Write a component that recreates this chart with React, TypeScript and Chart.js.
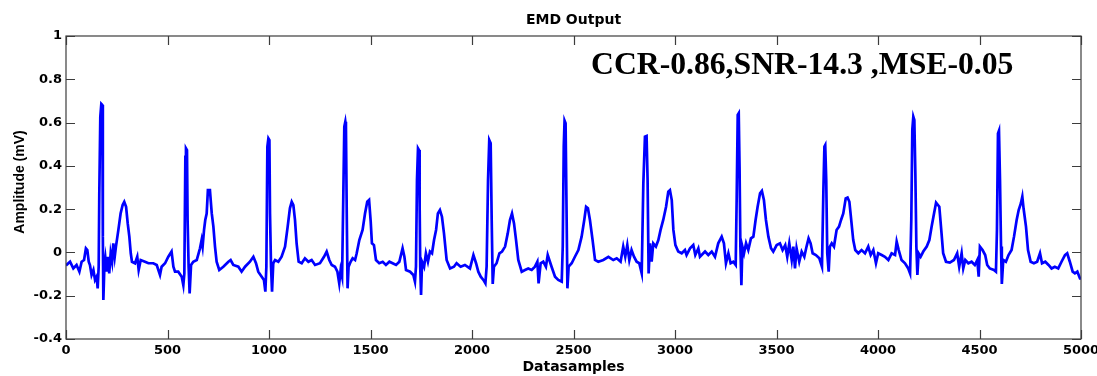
import { useEffect, useRef } from "react";
import { Chart, registerables } from "chart.js";

Chart.register(...registerables);

// ---- data (sample index, amplitude in mV) ----
const sampleIdx = [
  0, 20, 36, 52, 66, 77, 89, 98, 105, 112, 118, 126, 135, 143, 151, 156, 161, 164, 169, 174, 179, 181, 182, 184, 189, 194, 200, 207, 213, 220, 227, 233, 240, 246, 258, 269, 279, 287, 296, 304, 312, 319, 325, 340, 351, 358, 368, 389, 406, 430, 447, 463, 471, 488, 504, 520, 529, 537, 553, 570, 578, 583, 588, 591, 596, 599, 604, 609, 616, 627, 644, 660, 668, 673, 680, 686, 693, 699, 709, 718, 726, 734, 742, 755, 775, 800, 811, 824, 849, 865, 882, 906, 923, 936, 947, 964, 975, 982, 987, 992, 997, 1002, 1005, 1010, 1015, 1021, 1030, 1046, 1062, 1079, 1092, 1103, 1112, 1120, 1128, 1136, 1146, 1161, 1177, 1194, 1210, 1227, 1251, 1271, 1284, 1297, 1309, 1325, 1337, 1346, 1353, 1360, 1366, 1371, 1376, 1379, 1383, 1387, 1392, 1402, 1412, 1424, 1432, 1445,
  1461, 1473, 1484, 1493, 1501, 1507, 1517, 1527, 1543, 1560, 1576, 1593, 1609, 1626, 1642, 1658, 1667, 1675, 1695, 1711, 1719, 1724, 1729, 1734, 1739, 1742, 1745, 1749, 1754, 1764, 1773, 1783, 1793, 1803, 1813, 1823, 1832, 1842, 1852, 1862, 1875, 1892, 1911, 1924, 1944, 1965, 1990, 2007, 2020, 2031, 2043, 2056, 2066, 2072, 2079, 2085, 2092, 2097, 2102, 2108, 2121, 2135, 2148, 2163, 2176, 2187, 2197, 2207, 2217, 2228, 2245, 2261, 2277, 2294, 2310, 2322, 2328, 2338, 2351, 2364, 2373, 2381, 2392, 2409, 2425, 2442, 2447, 2452, 2456, 2461, 2465, 2470, 2476, 2491, 2507, 2524, 2540, 2553, 2562, 2571, 2581, 2594, 2606, 2622, 2647, 2672, 2696, 2713, 2732, 2745, 2755, 2765, 2775, 2786, 2798, 2811, 2824,
  2836, 2844, 2852, 2860, 2865, 2870, 2877, 2885, 2893, 2906, 2918, 2929, 2942, 2956, 2967, 2975, 2984, 2992, 3002, 3016, 3033, 3049, 3057, 3074, 3090, 3100, 3115, 3123, 3148, 3164, 3181, 3197, 3213, 3230, 3241, 3251, 3263, 3274, 3287, 3299, 3304, 3309, 3314, 3318, 3322, 3327, 3332, 3340, 3350, 3361, 3374, 3386, 3397, 3407, 3419, 3428, 3438, 3448, 3460, 3473, 3484, 3501, 3517, 3530, 3543, 3553, 3563, 3575, 3583, 3591, 3599, 3612, 3624, 3637, 3648, 3658, 3668, 3678, 3694, 3711, 3724, 3731, 3736, 3740, 3745, 3750, 3757, 3763, 3772, 3783, 3796, 3808, 3818, 3829, 3841, 3850, 3859, 3868, 3878, 3888, 3903, 3919, 3936, 3952, 3964, 3977, 3990, 4001, 4018, 4034, 4051, 4067, 4084, 4092, 4102, 4116, 4133, 4149, 4158, 4164, 4169, 4174, 4179, 4184, 4189, 4194, 4200, 4210, 4223, 4240, 4253, 4264, 4276, 4286,
  4302, 4313, 4321, 4335, 4354, 4374, 4390, 4400, 4412, 4420, 4430, 4445, 4461, 4477, 4489, 4496, 4502, 4515, 4528, 4538, 4551, 4571, 4581, 4586, 4591, 4596, 4601, 4606, 4610, 4617, 4630, 4643, 4658, 4670, 4683, 4693, 4704, 4711, 4717, 4729, 4739, 4752, 4768, 4784, 4798, 4808, 4824, 4840, 4855, 4871, 4888, 4904, 4921, 4932, 4945, 4959, 4970, 4982, 4995, 5000,
];

const amplitude = [
  -0.06, -0.043, -0.074, -0.058, -0.089, -0.043, -0.035, 0.019, 0.011, -0.043, -0.058, -0.104, -0.081, -0.127, -0.112, -0.166, -0.066, 0.273, 0.627, 0.686, 0.681, 0.519, 0.073, -0.22, -0.066, -0.027, -0.089, -0.02, -0.097, -0.004, -0.043, 0.042, -0.02, 0.027, 0.104, 0.18, 0.219, 0.234, 0.211, 0.134, 0.073, -0.004, -0.043, -0.05, -0.02, -0.081, -0.035, -0.043, -0.05, -0.05, -0.058, -0.104, -0.066, -0.05, -0.02, 0.004, -0.066, -0.089, -0.089, -0.112, -0.151, -0.097, 0.442, 0.481, 0.473, 0.15, -0.066, -0.189, -0.058, -0.043, -0.035, 0.019, 0.057, 0.027, 0.104, 0.15, 0.18, 0.288, 0.288, 0.18, 0.119, 0.027, -0.043, -0.081, -0.066, -0.043, -0.035, -0.058, -0.066, -0.089, -0.066, -0.043, -0.02, -0.05, -0.089, -0.112, -0.127, -0.181, -0.066, 0.489, 0.527, 0.519, 0.18, -0.066, -0.181, -0.05, -0.035, -0.043, -0.02, 0.027, 0.119, 0.204, 0.234, 0.219, 0.15, 0.042, -0.043, -0.05, -0.027, -0.043, -0.035, -0.058, -0.05, -0.02, 0.004, -0.035, -0.058, -0.066, -0.089, -0.143, -0.081, -0.112, 0.258, 0.581, 0.604, 0.581, 0.18, -0.166, -0.066, -0.043, -0.027, -0.035, -0.004, 0.057,
  0.104, 0.18, 0.234, 0.242, 0.142, 0.042, 0.034, -0.035, -0.05, -0.043, -0.058, -0.043, -0.05, -0.058, -0.043, 0.019, -0.02, -0.081, -0.089, -0.104, -0.135, -0.066, 0.335, 0.481, 0.473, 0.227, -0.066, -0.197, -0.043, -0.066, -0.004, -0.043, 0.004, -0.004, 0.057, 0.104, 0.18, 0.196, 0.165, 0.088, -0.035, -0.074, -0.066, -0.05, -0.066, -0.058, -0.074, -0.012, -0.05, -0.089, -0.112, -0.127, -0.143, -0.066, 0.335, 0.519, 0.504, 0.15, -0.146, -0.066, -0.05, -0.004, 0.004, 0.027, 0.088, 0.15, 0.18, 0.134, 0.057, -0.035, -0.089, -0.081, -0.074, -0.081, -0.066, -0.043, -0.143, -0.05, -0.043, -0.066, -0.012, -0.035, -0.066, -0.112, -0.127, -0.135, 0.027, 0.489, 0.609, 0.597, 0.258, -0.166, -0.066, -0.05, -0.02, 0.011, 0.073, 0.15, 0.211, 0.204, 0.15, 0.057, -0.035, -0.043, -0.035, -0.02, -0.035, -0.027, -0.043, 0.027, -0.02, 0.034, -0.035, 0.011, -0.02, -0.043, -0.05,
  -0.097, 0.319, 0.535, 0.538, 0.335, -0.097, 0.042, -0.043, 0.042, 0.027, 0.057, 0.104, 0.15, 0.211, 0.281, 0.288, 0.242, 0.104, 0.034, 0.004, -0.004, 0.011, -0.012, 0.019, 0.034, -0.012, 0.019, -0.02, 0.004, -0.012, 0.004, -0.02, 0.042, 0.073, 0.042, -0.05, -0.004, -0.05, -0.043, -0.058, 0.258, 0.635, 0.643, 0.396, 0.027, -0.151, 0.027, -0.004, 0.042, 0.011, 0.065, 0.073, 0.15, 0.211, 0.273, 0.284, 0.242, 0.15, 0.073, 0.019, 0.004, 0.034, 0.042, 0.011, 0.034, -0.02, 0.042, -0.035, 0.027, -0.074, 0.019, -0.043, 0.004, -0.02, 0.027, 0.065, 0.042, -0.004, -0.012, -0.027, -0.066, 0.288, 0.489, 0.496, 0.335, -0.004, -0.089, 0.027, 0.042, 0.027, 0.104, 0.119, 0.15, 0.18, 0.25, 0.254, 0.234, 0.15, 0.057, 0.011, -0.004, 0.011, -0.004, 0.027, -0.012, 0.011, -0.05, -0.004, -0.012, -0.02, -0.035, -0.004, -0.012, 0.05, 0.011, -0.035, -0.05, -0.074, -0.097, 0.15, 0.566, 0.627, 0.612, 0.365, 0.027, -0.104, -0.004, -0.02, 0.004, 0.027, 0.057, 0.119, 0.18, 0.23,
  0.211, 0.088, -0.004, -0.043, -0.047, -0.035, -0.004, -0.066, -0.004, -0.074, -0.035, -0.05, -0.043, -0.058, -0.035, -0.112, 0.027, 0.011, -0.012, -0.058, -0.074, -0.081, -0.089, 0.104, 0.55, 0.563, 0.335, 0.027, -0.146, -0.035, -0.043, -0.012, 0.011, 0.073, 0.15, 0.196, 0.227, 0.258, 0.204, 0.119, 0.011, -0.043, -0.05, -0.043, -0.004, -0.05, -0.043, -0.058, -0.074, -0.066, -0.074, -0.043, -0.012, -0.004, -0.043, -0.089, -0.097, -0.089, -0.12, -0.12,
];

const xTicks = [0, 500, 1000, 1500, 2000, 2500, 3000, 3500, 4000, 4500, 5000];
const yTicks = [-0.4, -0.2, 0, 0.2, 0.4, 0.6, 0.8, 1];

const chartTitle = "EMD Output";
const xAxisTitle = "Datasamples";
const yAxisTitle = "Amplitude (mV)";
const metricsText = "CCR-0.86,SNR-14.3 ,MSE-0.05";

const tickFont = { family: "'DejaVu Sans', sans-serif", weight: "bold" as const, size: 13 };

export default function App() {
  const ref = useRef<HTMLCanvasElement>(null);

  useEffect(() => {
    if (!ref.current) return;
    const pts = sampleIdx.map((x, i) => ({ x, y: amplitude[i] }));

    const framePlugin = {
      id: "matlabFrame",
      afterDraw(chart: any) {
        const { ctx, chartArea: a, scales } = chart;
        const xs = scales.x;
        const ys = scales.y;
        ctx.save();
        // frame
        ctx.strokeStyle = "#3c3c3c";
        ctx.lineWidth = 1.2;
        ctx.strokeRect(a.left, a.top, a.right - a.left, a.bottom - a.top);
        // inward ticks
        const tl = 9;
        ctx.beginPath();
        xTicks.forEach((v) => {
          const px = Math.round(xs.getPixelForValue(v)) + 0.5;
          ctx.moveTo(px, a.bottom);
          ctx.lineTo(px, a.bottom - tl);
          ctx.moveTo(px, a.top);
          ctx.lineTo(px, a.top + tl);
        });
        yTicks.forEach((v) => {
          const py = Math.round(ys.getPixelForValue(v)) + 0.5;
          ctx.moveTo(a.left, py);
          ctx.lineTo(a.left + tl, py);
          ctx.moveTo(a.right, py);
          ctx.lineTo(a.right - tl, py);
        });
        ctx.stroke();

        ctx.fillStyle = "#000";
        const cx = (a.left + a.right) / 2;
        // title
        ctx.font = "bold 14px 'DejaVu Sans', sans-serif";
        ctx.textAlign = "center";
        ctx.textBaseline = "alphabetic";
        ctx.fillText(chartTitle, cx, 24);
        // x axis title
        ctx.fillText(xAxisTitle, cx, 371);
        // y axis title
        ctx.save();
        ctx.translate(24, 182);
        ctx.rotate(-Math.PI / 2);
        ctx.font = "bold 14px 'Liberation Sans', Arial, sans-serif";
        ctx.textAlign = "center";
        ctx.fillText(yAxisTitle, 0, 0);
        ctx.restore();
        // metrics annotation
        ctx.save();
        ctx.translate(591, 74);
        ctx.scale(0.99, 1);
        ctx.font = "bold 32px 'Liberation Serif', 'Times New Roman', serif";
        ctx.textAlign = "left";
        ctx.fillText(metricsText, 0, 0);
        ctx.restore();
        ctx.restore();
      },
    };

    const chart = new Chart(ref.current, {
      type: "line",
      data: {
        datasets: [
          {
            data: pts,
            borderColor: "#0000ff",
            borderWidth: 2.7,
            pointRadius: 0,
            tension: 0,
            fill: false,
            borderJoinStyle: "miter",
          },
        ],
      },
      options: {
        animation: false,
        responsive: false,
        devicePixelRatio: 1,
        layout: { padding: { top: 36, right: 16, left: 0, bottom: 0 } },
        plugins: {
          legend: { display: false },
          tooltip: { enabled: false },
          title: { display: false },
        },
        scales: {
          x: {
            type: "linear",
            min: 0,
            max: 5000,
            afterBuildTicks: (s: any) => {
              s.ticks = xTicks.map((value) => ({ value }));
            },
            afterFit: (s: any) => {
              s.height = 37;
              s.paddingLeft = 0;
              s.paddingRight = 0;
            },
            ticks: {
              font: tickFont,
              color: "#000",
              padding: 4,
              maxRotation: 0,
              autoSkip: false,
              callback: (v: any) => String(v),
            },
            grid: { display: false, drawTicks: false },
            border: { display: false },
          },
          y: {
            type: "linear",
            min: -0.4,
            max: 1,
            afterBuildTicks: (s: any) => {
              s.ticks = yTicks.map((value) => ({ value }));
            },
            afterFit: (s: any) => {
              s.width = 66;
              s.paddingTop = 0;
              s.paddingBottom = 0;
            },
            ticks: {
              font: tickFont,
              color: "#000",
              padding: 4,
              autoSkip: false,
              callback: (v: any) => String(Math.round(v * 10) / 10),
            },
            grid: { display: false, drawTicks: false },
            border: { display: false },
          },
        },
      },
      plugins: [framePlugin],
    });
    return () => chart.destroy();
  }, []);

  return (
    <div style={{ position: "absolute", left: 0, top: 0, width: 1097, height: 376, background: "#fff" }}>
      <canvas ref={ref} width={1097} height={376} style={{ display: "block" }} />
    </div>
  );
}
